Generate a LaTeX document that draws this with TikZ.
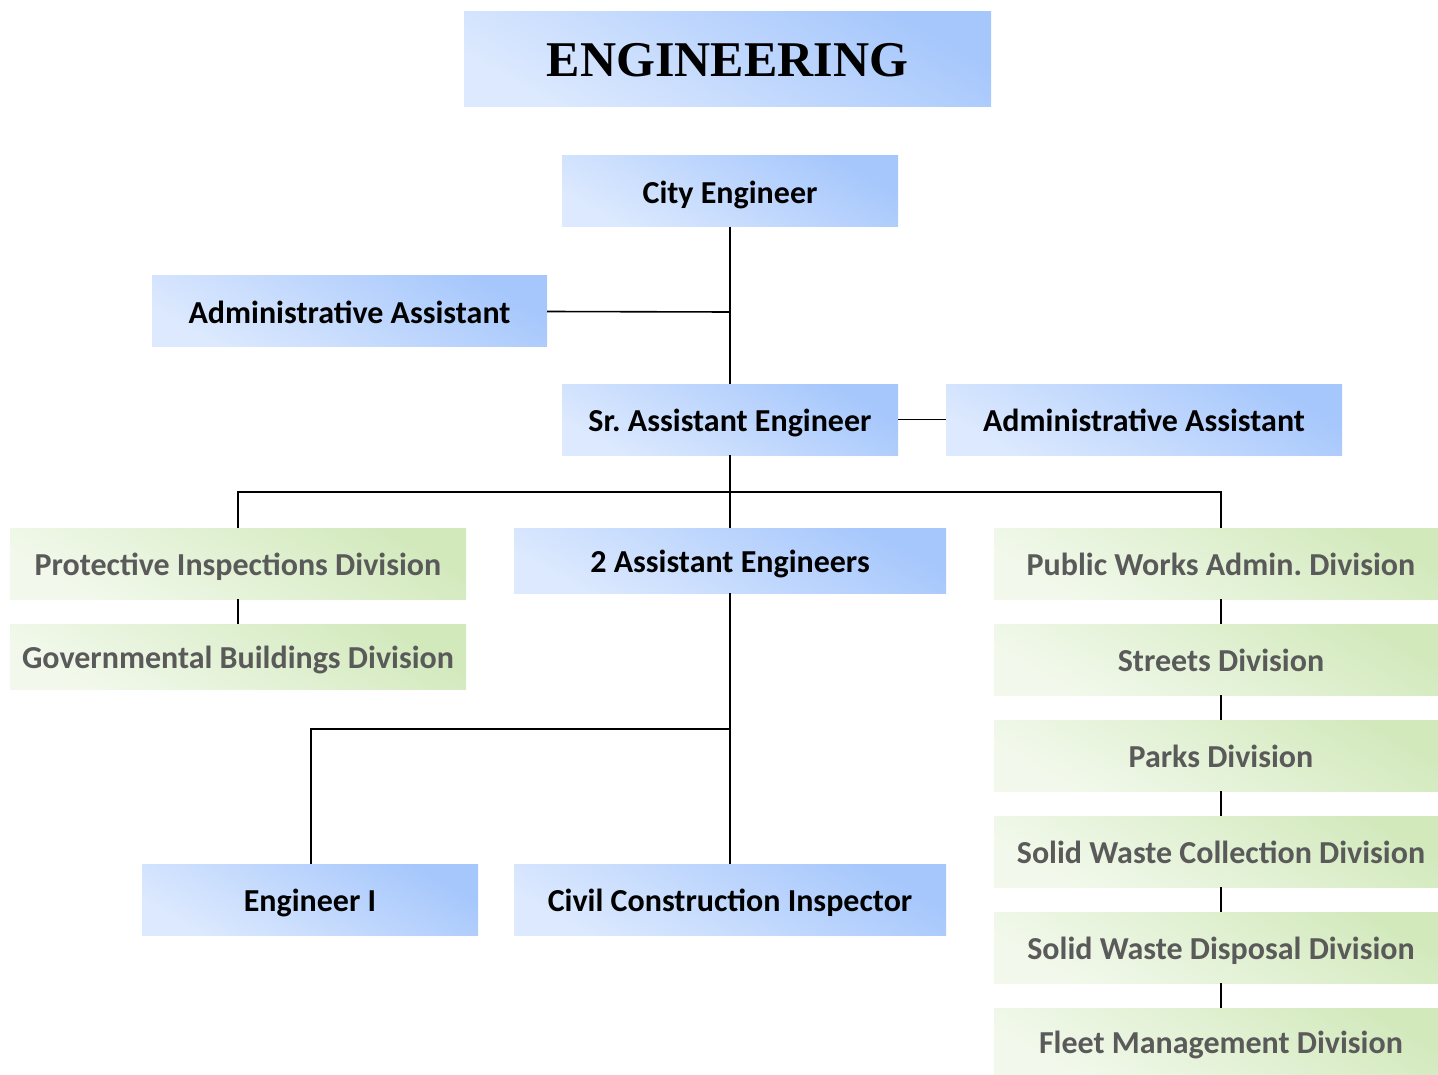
\documentclass[tikz,border=0pt]{standalone}
\usepackage{fontspec}
\setmainfont{Carlito}
\newfontfamily\titlefont{Liberation Serif}
\frenchspacing
\definecolor{bluelight}{HTML}{DCE9FE}
\definecolor{bluedark}{HTML}{A6C7FC}
\definecolor{greenlight}{HTML}{F2F9EC}
\definecolor{greendark}{HTML}{D2E9BC}
\definecolor{greytext}{HTML}{5A5A5A}
\begin{document}
\begin{tikzpicture}[x=1pt,y=-1pt,
  box/.style={inner sep=0pt, outer sep=0pt, text height=24pt, text depth=0pt,
    font=\bfseries\fontsize{32}{36}\selectfont},
  bluebox/.style={box, top color=bluedark, bottom color=bluelight, shading angle=-30, text=black},
  greenbox/.style={box, top color=greendark, bottom color=greenlight, shading angle=-30, text=greytext},
  link/.style={draw=black, line width=1.6pt}]
\useasboundingbox (0,0) rectangle (1438,1075);
% title banner
\node[bluebox, minimum width=527pt, minimum height=95pt, text height=34pt,
  font=\titlefont\bfseries\fontsize{50}{56}\selectfont] (title) at (727.5,59.5) {ENGINEERING};
% management chain
\node[bluebox, minimum width=336pt, minimum height=71pt] (city) at (730,191.5) {City Engineer};
\node[bluebox, minimum width=395pt, minimum height=71pt] (adminL) at (349.5,311.5) {Administrative Assistant};
\node[bluebox, minimum width=336pt, minimum height=71pt] (sr) at (730,419.5) {Sr. Assistant Engineer};
\node[bluebox, minimum width=396pt, minimum height=71pt] (adminR) at (1144,419.5) {Administrative Assistant};
\node[bluebox, minimum width=432pt, minimum height=65pt] (asst) at (730,560.5) {2 Assistant Engineers};
\node[bluebox, minimum width=336pt, minimum height=71pt] (eng1) at (310,899.5) {Engineer I};
\node[bluebox, minimum width=432pt, minimum height=71pt] (civil) at (730,899.5) {Civil Construction Inspector};
% left divisions
\node[greenbox, minimum width=456pt, minimum height=71pt] (prot) at (238,563.5) {Protective Inspections Division};
\node[greenbox, minimum width=456pt, minimum height=65pt] (gov) at (238,656.5) {Governmental Buildings Division};
% right divisions (run past the right edge)
\node[greenbox, minimum width=454pt, minimum height=71pt] (pw) at (1221,563.5) {Public Works Admin. Division};
\node[greenbox, minimum width=454pt, minimum height=71pt] (streets) at (1221,659.5) {Streets Division};
\node[greenbox, minimum width=454pt, minimum height=71pt] (parks) at (1221,755.5) {Parks Division};
\node[greenbox, minimum width=454pt, minimum height=71pt] (swc) at (1221,851.5) {Solid Waste Collection Division};
\node[greenbox, minimum width=454pt, minimum height=71pt] (swd) at (1221,947.5) {Solid Waste Disposal Division};
\node[greenbox, minimum width=454pt, minimum height=67pt] (fleet) at (1221,1041.5) {Fleet Management Division};
% junction points
\coordinate (jAdmin) at (730,312);
\coordinate (busL) at (238,492);
\coordinate (busR) at (1221,492);
\coordinate (jEng) at (730,729);
\coordinate (jEngL) at (311,729);
% connectors
\draw[link] (city.south) -- (sr.north);
\draw[link] (adminL.east) -- (jAdmin);
\draw[link] (sr.east) -- (adminR.west);
\draw[link] (sr.south) -- (asst.north);
\draw[link] (prot.north -| busL) -- (busL) -- (busR) -- (pw.north -| busR);
\draw[link] (prot.south -| busL) -- (gov.north -| busL);
\draw[link] (pw.south) -- (streets.north);
\draw[link] (streets.south) -- (parks.north);
\draw[link] (parks.south) -- (swc.north);
\draw[link] (swc.south) -- (swd.north);
\draw[link] (swd.south) -- (fleet.north);
\draw[link] (asst.south) -- (civil.north);
\draw[link] (jEng) -- (jEngL) -- (eng1.north -| jEngL);
\end{tikzpicture}
\end{document}
